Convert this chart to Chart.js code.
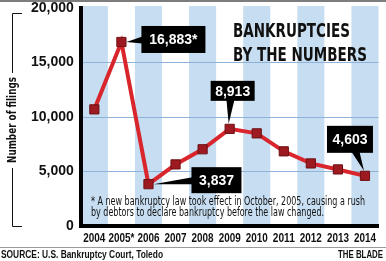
<!DOCTYPE html>
<html>
<head>
<meta charset="utf-8">
<script src="https://cdn.jsdelivr.net/npm/chart.js@4.4.1/dist/chart.umd.min.js"></script>
<style>
  html, body { margin: 0; padding: 0; background: #fff; }
  #wrap { width: 386px; height: 261px; position: relative; }
</style>
</head>
<body>
<div id="wrap"><canvas id="grafico" width="386" height="261"></canvas></div>
<script>
const anos = ['2004', '2005*', '2006', '2007', '2008', '2009', '2010', '2011', '2012', '2013', '2014'];
const pedidos = [10700, 16883, 3837, 5650, 7040, 8913, 8500, 6850, 5740, 5190, 4603];
const marcasY = [0, 5000, 10000, 15000, 20000];
const destaqueIdx = [1, 2, 5, 10];
const destaqueSufixo = ['*', '', '', ''];
const titulo = ['BANKRUPTCIES', 'BY THE NUMBERS'];
const nota = [
  '* A new bankruptcy law took effect in October, 2005, causing a rush',
  'by debtors to declare bankruptcy before the law changed.'
];
const tituloEixoY = 'Number of filings';
const fonte = 'SOURCE: U.S. Bankruptcy Court, Toledo';
const credito = 'THE BLADE';

const estreita = '"DejaVu Sans Condensed", "Liberation Sans Narrow", "Arial Narrow", sans-serif';
const azulFaixa = '#c7ddf1';
const azulGrade = '#8fb3d8';
const vermelho = '#d8262c';
const vinho = '#9c1a20';

// caixas pretas dos destaques (posicao relativa ao ponto)
const caixas = [
  { dx: 20, dy: -16, w: 64, h: 27, ponta: 'esq' },
  { dx: 43, dy: -17, w: 50, h: 26, ponta: 'esq' },
  { dx: -19, dy: -48, w: 44, h: 20, ponta: 'baixo', bx: 0.45 },
  { dx: -38, dy: -50, w: 46, h: 27, ponta: 'baixo', bx: 0.62 }
];

const fmt = v => v.toLocaleString('en-US');

const pluginFundo = {
  id: 'fundo',
  beforeDraw(chart) {
    const { ctx, chartArea, scales } = chart;
    const x = scales.x;
    const passo = x.getPixelForValue(1) - x.getPixelForValue(0);
    ctx.save();
    ctx.fillStyle = azulFaixa;
    anos.forEach((_, i) => {
      if (i % 2 === 0) {
        const cx = x.getPixelForValue(i);
        ctx.fillRect(cx - passo / 2, chartArea.top - 2, passo, chartArea.bottom - chartArea.top + 2);
      }
    });
    // linha cinza no topo
    ctx.fillStyle = '#7d7d7d';
    ctx.fillRect(0, 0, 386, 2);
    ctx.restore();
  },
  afterDraw(chart) {
    const { ctx, chartArea, scales } = chart;
    const x = scales.x;
    const passo = x.getPixelForValue(1) - x.getPixelForValue(0);
    ctx.save();
    ctx.fillStyle = '#111';

    // rotulos do eixo x (estreitos)
    ctx.font = 'bold 13px "Liberation Sans"';
    ctx.textAlign = 'center';
    ctx.textBaseline = 'middle';
    anos.forEach((a, i) => {
      const larg = a.length > 4 ? passo - 1 : passo - 5;
      ctx.fillText(a, x.getPixelForValue(i), chartArea.bottom + 12, larg);
    });

    // titulo
    ctx.textBaseline = 'alphabetic';
    ctx.textAlign = 'left';
    ctx.font = 'bold 20px ' + estreita;
    ctx.fillText(titulo[0], 233, 37, 117);
    ctx.fillText(titulo[1], 233, 61, 134);

    // nota de rodape
    ctx.font = '12px ' + estreita;
    ctx.textBaseline = 'middle';
    ctx.fillText(nota[0], 91, 202, 274);
    ctx.fillText(nota[1], 91, 213, 233);

    // titulo do eixo y com colchete
    ctx.save();
    ctx.translate(13, 120);
    ctx.rotate(-Math.PI / 2);
    ctx.textAlign = 'center';
    ctx.font = 'bold 12px ' + estreita;
    ctx.fillText(tituloEixoY, 0, 0, 86);
    ctx.restore();
    ctx.strokeStyle = '#111';
    ctx.lineWidth = 1;
    ctx.beginPath();
    ctx.moveTo(22, 13.5); ctx.lineTo(12.5, 13.5); ctx.lineTo(12.5, 73);
    ctx.moveTo(12.5, 168); ctx.lineTo(12.5, 226.5); ctx.lineTo(22, 226.5);
    ctx.stroke();

    // fonte e credito
    ctx.strokeStyle = '#9a9a9a';
    ctx.beginPath();
    ctx.moveTo(0, 247.5); ctx.lineTo(386, 247.5);
    ctx.stroke();
    ctx.fillStyle = '#111';
    ctx.font = 'bold 11px "Liberation Sans"';
    ctx.textAlign = 'left';
    ctx.fillText(fonte, 1, 254.5, 162);
    ctx.textAlign = 'right';
    ctx.fillText(credito, 383, 254.5, 45);
    ctx.restore();
  }
};

const pluginDestaques = {
  id: 'destaques',
  afterDatasetsDraw(chart) {
    const { ctx } = chart;
    const pts = chart.getDatasetMeta(0).data;
    ctx.save();
    destaqueIdx.forEach((idx, k) => {
      const p = pts[idx];
      const c = caixas[k];
      const bx = p.x + c.dx, by = p.y + c.dy;
      ctx.fillStyle = '#000';
      ctx.beginPath();
      if (c.ponta === 'esq') {
        const cy = by + c.h / 2;
        ctx.moveTo(p.x + 5, p.y);
        ctx.lineTo(bx + 1, cy - 3);
        ctx.lineTo(bx + 1, cy + 4);
      } else {
        const cx = bx + c.w * c.bx;
        ctx.moveTo(p.x - 1, p.y - 5);
        ctx.lineTo(cx - 4, by + c.h - 1);
        ctx.lineTo(cx + 4, by + c.h - 1);
      }
      ctx.closePath();
      ctx.fill();
      ctx.fillRect(bx, by, c.w, c.h);
      ctx.fillStyle = '#fff';
      ctx.font = 'bold 14px "Liberation Sans"';
      ctx.textAlign = 'center';
      ctx.textBaseline = 'middle';
      ctx.fillText(fmt(pedidos[idx]) + destaqueSufixo[k], bx + c.w / 2, by + c.h / 2 + 1, c.w - 8);
    });
    ctx.restore();
  }
};

const ctx = document.getElementById('grafico').getContext('2d');
new Chart(ctx, {
  type: 'line',
  data: {
    labels: anos,
    datasets: [{
      data: pedidos,
      borderColor: vermelho,
      borderWidth: 4,
      pointStyle: 'rect',
      pointRadius: 6.5,
      pointBackgroundColor: vinho,
      pointBorderColor: '#6e1014',
      pointBorderWidth: 1,
      tension: 0
    }]
  },
  options: {
    responsive: false,
    animation: false,
    devicePixelRatio: 1,
    layout: { padding: { left: 24, top: 8, right: 2, bottom: 35 } },
    plugins: { legend: { display: false }, tooltip: { enabled: false } },
    scales: {
      x: {
        offset: true,
        grid: { display: false, drawTicks: false },
        border: { color: '#000', width: 4 },
        ticks: { display: false }
      },
      y: {
        min: 0,
        max: 20000,
        afterBuildTicks: axis => { axis.ticks = marcasY.map(v => ({ value: v })); },
        afterFit: axis => { axis.paddingTop = 0; axis.paddingBottom = 0; },
        grid: {
          drawTicks: false,
          lineWidth: 1,
          color: c => (c.tick && c.tick.value > 0 && c.tick.value < 20000) ? azulGrade : 'rgba(0,0,0,0)'
        },
        border: { color: '#000', width: 4 },
        ticks: {
          color: '#111',
          padding: 7,
          callback: v => fmt(v),
          font: { family: 'Liberation Sans', weight: 'bold', size: 14 }
        }
      }
    }
  },
  plugins: [pluginFundo, pluginDestaques]
});
</script>
</body>
</html>
